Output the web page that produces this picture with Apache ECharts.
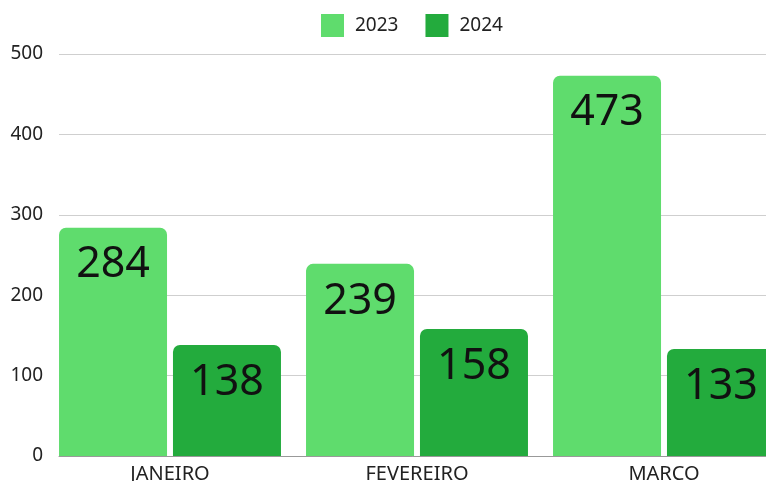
<!DOCTYPE html>
<html>
<head>
<meta charset="utf-8">
<script src="https://cdn.jsdelivr.net/npm/echarts@6/dist/echarts.min.js"></script>
<style>
  html, body { margin: 0; padding: 0; background: #fff; }
  #chart { width: 766px; height: 481px; }
</style>
</head>
<body>
<div id="chart"></div>
<script>
let meses = ['JANEIRO', 'FEVEREIRO', 'MARCO'];
let valores2023 = [284, 239, 473];
let valores2024 = [138, 158, 133];
let cores = ['#5fdc6d', '#23ab3d'];

let chart = echarts.init(document.getElementById('chart'));
let fonte = '"Noto Sans", sans-serif';

function serie(nome, dados, idx) {
  return {
    name: nome,
    type: 'bar',
    xAxisIndex: 1,
    yAxisIndex: 1,
    barWidth: 108,
    barGap: '5.5%',
    data: dados,
    itemStyle: { color: cores[idx], borderRadius: [7, 7, 0, 0] },
    label: {
      show: true,
      position: 'insideTop',
      distance: 16,
      fontSize: 43,
      fontFamily: fonte,
      color: '#111'
    }
  };
}

chart.setOption({
  animation: false,
  color: cores,
  legend: {
    left: 316,
    top: 9,
    icon: 'rect',
    itemWidth: 23,
    itemHeight: 23,
    itemGap: 27,
    textStyle: { fontSize: 19, color: '#222', fontFamily: fonte, padding: [0, 0, 0, 6] },
    data: ['2023', '2024']
  },
  grid: [
    { left: 59, width: 720, top: 54, height: 402, outerBoundsMode: 'none' },
    { left: 46.5, width: 741, top: 54, height: 402, outerBoundsMode: 'none' }
  ],
  xAxis: [
    {
      type: 'category',
      gridIndex: 0,
      data: meses,
      axisLine: { lineStyle: { color: '#999' } },
      axisTick: { show: false },
      axisLabel: { show: false }
    },
    {
      type: 'category',
      gridIndex: 1,
      data: meses,
      axisLine: { show: false },
      axisTick: { show: false },
      axisLabel: { fontSize: 20, color: '#222', fontFamily: fonte, margin: 8 }
    }
  ],
  yAxis: [
    {
      type: 'value',
      gridIndex: 0,
      min: 0,
      max: 500,
      interval: 100,
      axisLabel: { fontSize: 19, color: '#222', fontFamily: fonte, margin: 16 },
      splitLine: { lineStyle: { color: '#cfcfcf' } }
    },
    {
      type: 'value',
      gridIndex: 1,
      min: 0,
      max: 500,
      interval: 100,
      show: false,
      splitLine: { show: false }
    }
  ],
  series: [
    serie('2023', valores2023, 0),
    serie('2024', valores2024, 1)
  ]
});
</script>
</body>
</html>
